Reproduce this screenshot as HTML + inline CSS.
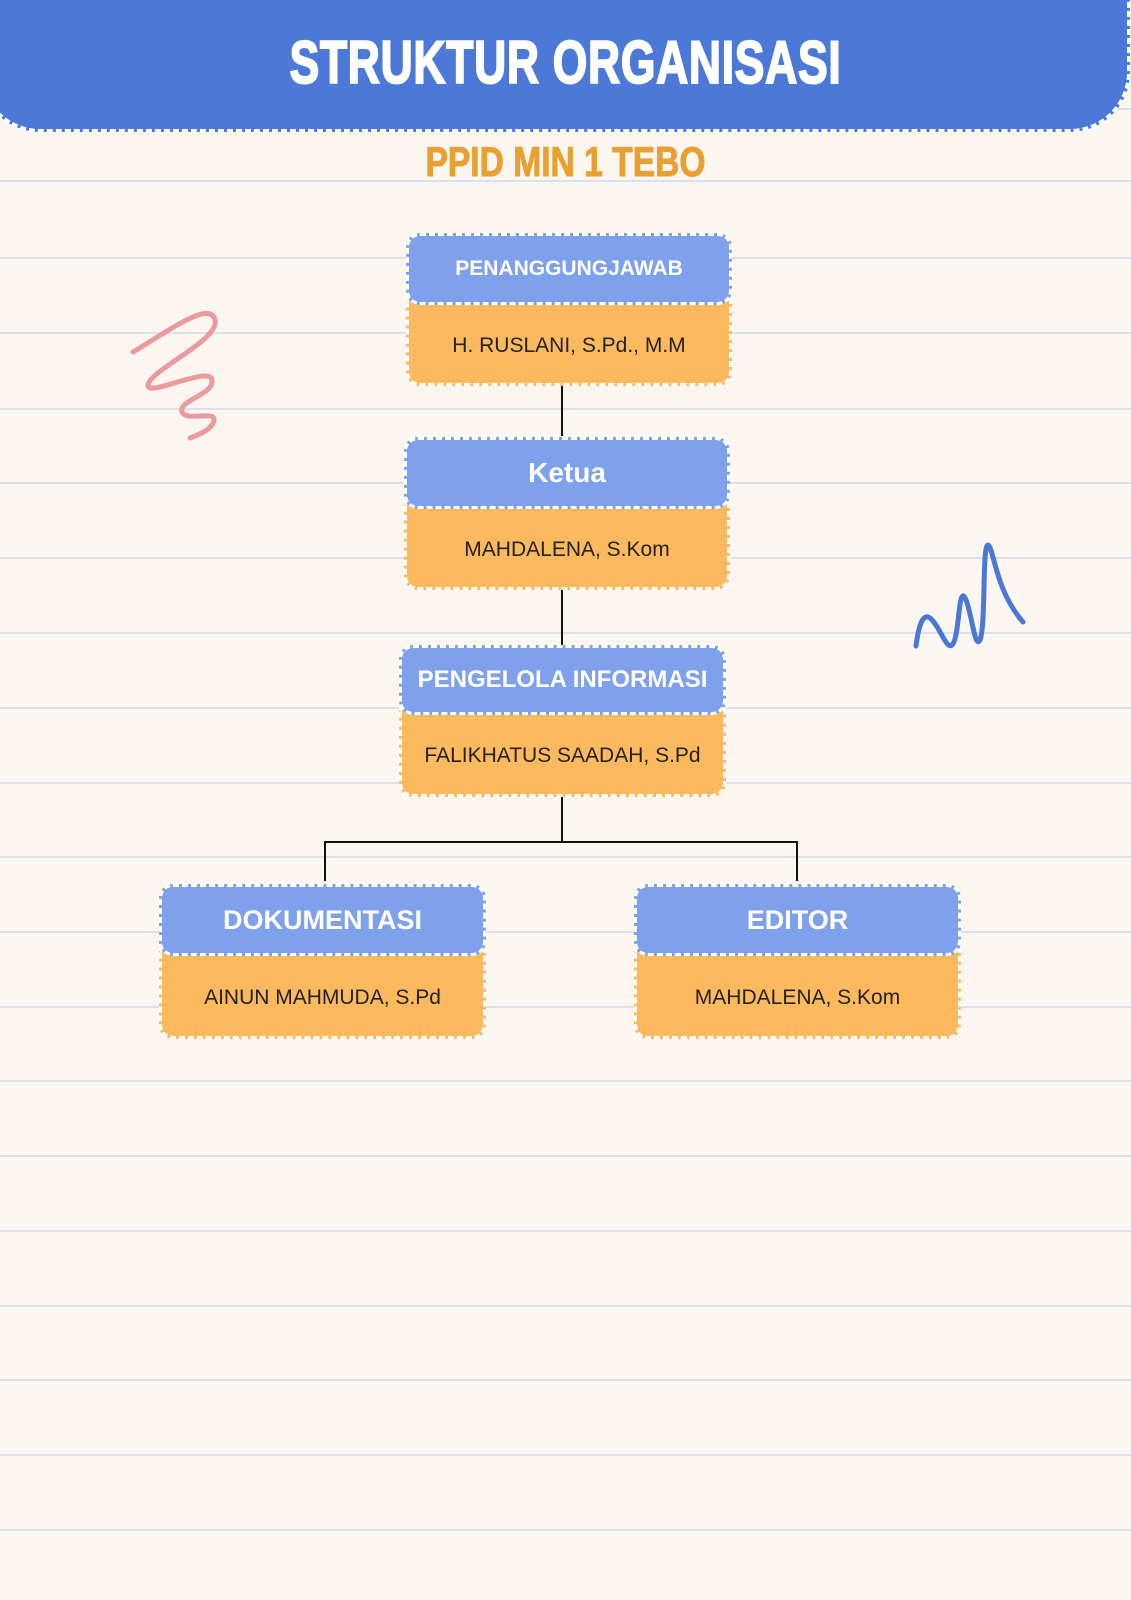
<!DOCTYPE html>
<html><head><meta charset="utf-8"><style>
body{margin:0;width:1131px;height:1600px;background:#fbf6f0;position:relative;overflow:hidden;font-family:"Liberation Sans",sans-serif}
.ln{position:absolute;left:0;width:1131px;height:2px;background:#d9e1ef}
.hdr{position:absolute;left:-20px;top:-40px;width:1150px;height:172px;background:#4c79d8;border:3px dashed #fff;border-radius:0 0 60px 60px;box-sizing:border-box}
.title{position:absolute;left:0;width:1131px;top:28px;text-align:center;color:#fff;font-weight:900;font-size:60px;transform:scaleX(0.74);-webkit-text-stroke:2px #fff;letter-spacing:1px}
.sub{position:absolute;left:0;width:1131px;top:138px;text-align:center;color:#e8a033;font-weight:bold;font-size:42px;transform:scaleX(0.8);-webkit-text-stroke:1px #e8a033}
.box{position:absolute}
.b,.o{position:absolute;left:0;right:0;box-sizing:border-box;border:3px dashed #fff;display:flex;align-items:center;justify-content:center}
.b{top:0;background:#7fa1eb;border-radius:14px;color:#fff;font-weight:bold;z-index:2}
.o{background:#fdb95d;border-radius:0 0 14px 14px;color:#222;font-size:21px;padding-top:8px}
.v{position:absolute;width:2px;background:#111}
.h{position:absolute;height:2px;background:#111}
</style></head><body>
<div class="ln" style="top:108px"></div><div class="ln" style="top:180px"></div><div class="ln" style="top:257px"></div><div class="ln" style="top:332px"></div><div class="ln" style="top:408px"></div><div class="ln" style="top:482px"></div><div class="ln" style="top:557px"></div><div class="ln" style="top:632px"></div><div class="ln" style="top:707px"></div><div class="ln" style="top:782px"></div><div class="ln" style="top:856px"></div><div class="ln" style="top:931px"></div><div class="ln" style="top:1006px"></div><div class="ln" style="top:1080px"></div><div class="ln" style="top:1155px"></div><div class="ln" style="top:1230px"></div><div class="ln" style="top:1305px"></div><div class="ln" style="top:1379px"></div><div class="ln" style="top:1454px"></div><div class="ln" style="top:1529px"></div>
<div class="hdr"></div>
<div class="title">STRUKTUR ORGANISASI</div>
<div class="sub">PPID MIN 1 TEBO</div>
<svg style="position:absolute;left:0;top:0" width="1131" height="1600">
<path d="M133,352 C170,330 210,300 215,320 C220,340 150,370 148,385 C146,398 210,365 212,380 C214,395 178,400 182,412 C186,422 215,410 214,420 C213,430 195,436 190,438" fill="none" stroke="#ec9a9e" stroke-width="5" stroke-linecap="round" stroke-linejoin="round"/>
<path d="M916,646 C918,630 922,612 930,618 C940,626 946,650 952,645 C960,638 958,580 966,600 C972,615 975,650 980,640 C986,625 982,545 988,545 C994,548 995,590 1023,622" fill="none" stroke="#4a78d4" stroke-width="5" stroke-linecap="round" stroke-linejoin="round"/>
</svg>
<div class="v" style="left:561px;top:386px;height:50px"></div>
<div class="v" style="left:561px;top:590px;height:55px"></div>
<div class="v" style="left:561px;top:796px;height:46px"></div>
<div class="h" style="left:324px;top:841px;width:474px"></div>
<div class="v" style="left:324px;top:841px;height:40px"></div>
<div class="v" style="left:796px;top:841px;height:40px"></div>

<div class="box" style="left:406px;top:233px;width:326px;height:153px">
<div class="b" style="height:72px;font-size:21px">PENANGGUNGJAWAB</div>
<div class="o" style="top:64px;bottom:0">H. RUSLANI, S.Pd., M.M</div></div>
<div class="box" style="left:404px;top:437px;width:326px;height:153px">
<div class="b" style="height:72px;font-size:28px">Ketua</div>
<div class="o" style="top:64px;bottom:0">MAHDALENA, S.Kom</div></div>
<div class="box" style="left:399px;top:645px;width:327px;height:152px">
<div class="b" style="height:70px;font-size:24px">PENGELOLA INFORMASI</div>
<div class="o" style="top:62px;bottom:0">FALIKHATUS SAADAH, S.Pd</div></div>
<div class="box" style="left:159px;top:884px;width:327px;height:155px">
<div class="b" style="height:72px;font-size:27px">DOKUMENTASI</div>
<div class="o" style="top:64px;bottom:0">AINUN MAHMUDA, S.Pd</div></div>
<div class="box" style="left:634px;top:884px;width:327px;height:155px">
<div class="b" style="height:72px;font-size:27px">EDITOR</div>
<div class="o" style="top:64px;bottom:0">MAHDALENA, S.Kom</div></div>
</body></html>
